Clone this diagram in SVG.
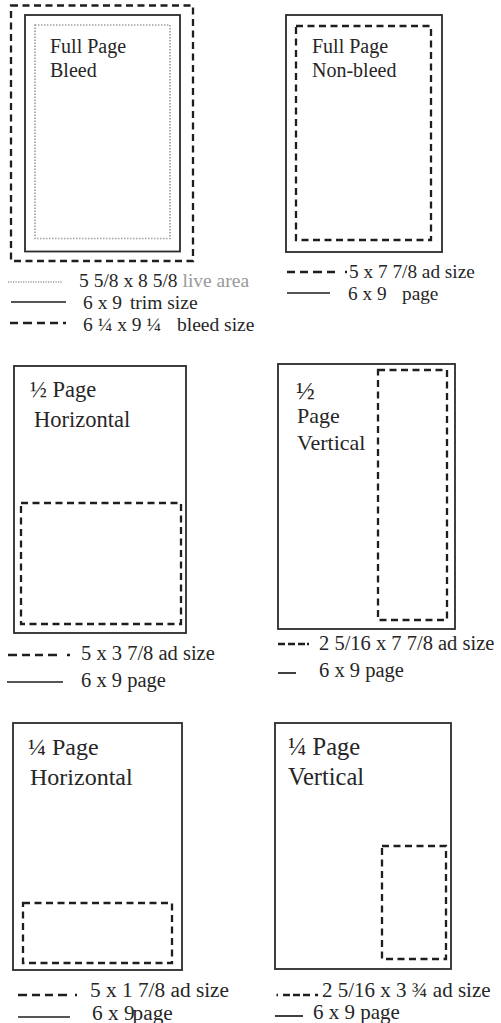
<svg xmlns="http://www.w3.org/2000/svg" width="501" height="1023" viewBox="0 0 501 1023">
<style>
.bg{fill:#ffffff}
.page{fill:none;stroke:#2b2b2b;stroke-width:1.8}
.ad{fill:none;stroke:#1e1e1e;stroke-width:2.3;stroke-dasharray:7 4.5}
.live{fill:none;stroke:#9a9a9a;stroke-width:1.6;stroke-dasharray:1.4 1.6}
.t{font-family:"Liberation Serif","DejaVu Serif",serif;fill:#262626}
.gray{fill:#9a9a9a}
.lsolid{stroke:#1e1e1e;stroke-width:1.7;fill:none}
.ldash{stroke:#1e1e1e;stroke-width:2.3;fill:none}
.ldot{stroke:#9a9a9a;stroke-width:1.6;stroke-dasharray:1.2 1.3;fill:none}
</style>
<rect class="bg" x="0" y="0" width="501" height="1023"/>

<g id="full-page-bleed">
<rect class="ad" x="11" y="5.5" width="182" height="255.5"/>
<rect class="page" x="25" y="15" width="155" height="236.5"/>
<rect class="live" x="35" y="25" width="135" height="213.5"/>
<text class="t" font-size="20" x="50" y="53">Full Page</text>
<text class="t" font-size="20" x="50" y="77">Bleed</text>
</g>

<g id="full-page-nonbleed">
<rect class="page" x="286" y="15" width="156" height="237"/>
<rect class="ad" x="296" y="26" width="135" height="214"/>
<text class="t" font-size="20" x="312" y="53">Full Page</text>
<text class="t" font-size="20" x="312" y="77">Non-bleed</text>
</g>

<g id="half-horizontal">
<rect class="page" x="14" y="366" width="172" height="267"/>
<rect class="ad" x="21" y="503" width="160" height="121"/>
<text class="t" font-size="22.5" x="30" y="397">½ Page</text>
<text class="t" font-size="22.5" x="34" y="427">Horizontal</text>
</g>

<g id="half-vertical">
<rect class="page" x="278" y="364" width="177" height="265"/>
<rect class="ad" x="378" y="370" width="69" height="250"/>
<text class="t" font-size="25" x="296" y="399">½</text>
<text class="t" font-size="22" x="297" y="423">Page</text>
<text class="t" font-size="22" x="297" y="450">Vertical</text>
</g>

<g id="quarter-horizontal">
<rect class="page" x="13" y="723" width="169" height="247"/>
<rect class="ad" x="23" y="903" width="149" height="60"/>
<text class="t" font-size="24" x="28" y="755">¼ Page</text>
<text class="t" font-size="24" x="30" y="785">Horizontal</text>
</g>

<g id="quarter-vertical">
<rect class="page" x="275" y="723" width="176" height="246"/>
<rect class="ad" x="382" y="846" width="64" height="113"/>
<text class="t" font-size="24.5" x="288" y="755">¼ Page</text>
<text class="t" font-size="24.5" x="288" y="785">Vertical</text>
</g>

<g id="legends">
<line class="ldot" x1="8" y1="282" x2="63" y2="282"/>
<text class="t" font-size="19.5" x="79" y="287">5 5/8 x 8 5/8 <tspan class="gray">live area</tspan></text>
<line class="lsolid" x1="11" y1="302" x2="66" y2="302"/>
<text class="t" font-size="19.5" x="83" y="309">6 x 9 <tspan dx="3">trim size</tspan></text>
<path class="ldash" d="M10 323h8M23 323h9M37 323h8M50 323h8M63 323h3"/>
<text class="t" font-size="19.5" x="83" y="331">6 ¼ x 9 ¼<tspan x="177">bleed size</tspan></text>

<path class="ldash" d="M287 272h8M300 272h8M313 272h9M327 272h8M345 272h2"/>
<text class="t" font-size="19.3" x="349" y="278">5 x 7 7/8 ad size</text>
<line class="lsolid" x1="287" y1="293" x2="330" y2="293"/>
<text class="t" font-size="19.3" x="348" y="300">6 x 9<tspan x="402">page</tspan></text>

<path class="ldash" d="M8 655h9M22 655h8M35 655h8M48 655h9M67 655h3"/>
<text class="t" font-size="20.5" x="81" y="660">5 x 3 7/8 ad size</text>
<line class="lsolid" x1="7" y1="682" x2="63" y2="682"/>
<text class="t" font-size="20.5" x="81" y="687">6 x 9 page</text>

<path class="ldash" d="M278 644h7M288 644h7M298 644h7M307 644h2"/>
<text class="t" font-size="20.5" x="319" y="650">2 5/16 x 7 7/8 ad size</text>
<line class="lsolid" x1="278" y1="673" x2="296" y2="673"/>
<text class="t" font-size="20.5" x="319" y="677">6 x 9 page</text>

<path class="ldash" d="M18 995h9M32 995h8M45 995h8M58 995h9M75 995h2"/>
<text class="t" font-size="21.3" x="90" y="997">5 x 1 7/8 ad size</text>
<line class="lsolid" x1="18" y1="1017" x2="70" y2="1017"/>
<text class="t" font-size="21.3" x="92" y="1020">6 x 9<tspan dx="-2">page</tspan></text>

<path class="ldash" d="M276.5 995h1.5M283 995h7M293 995h7M303 995h7M315 995h3"/>
<text class="t" font-size="21" x="322" y="997">2 5/16 x 3 ¾ ad size</text>
<line class="lsolid" x1="275" y1="1016" x2="303" y2="1016"/>
<text class="t" font-size="21" x="313" y="1019">6 x 9 page</text>
</g>
</svg>
